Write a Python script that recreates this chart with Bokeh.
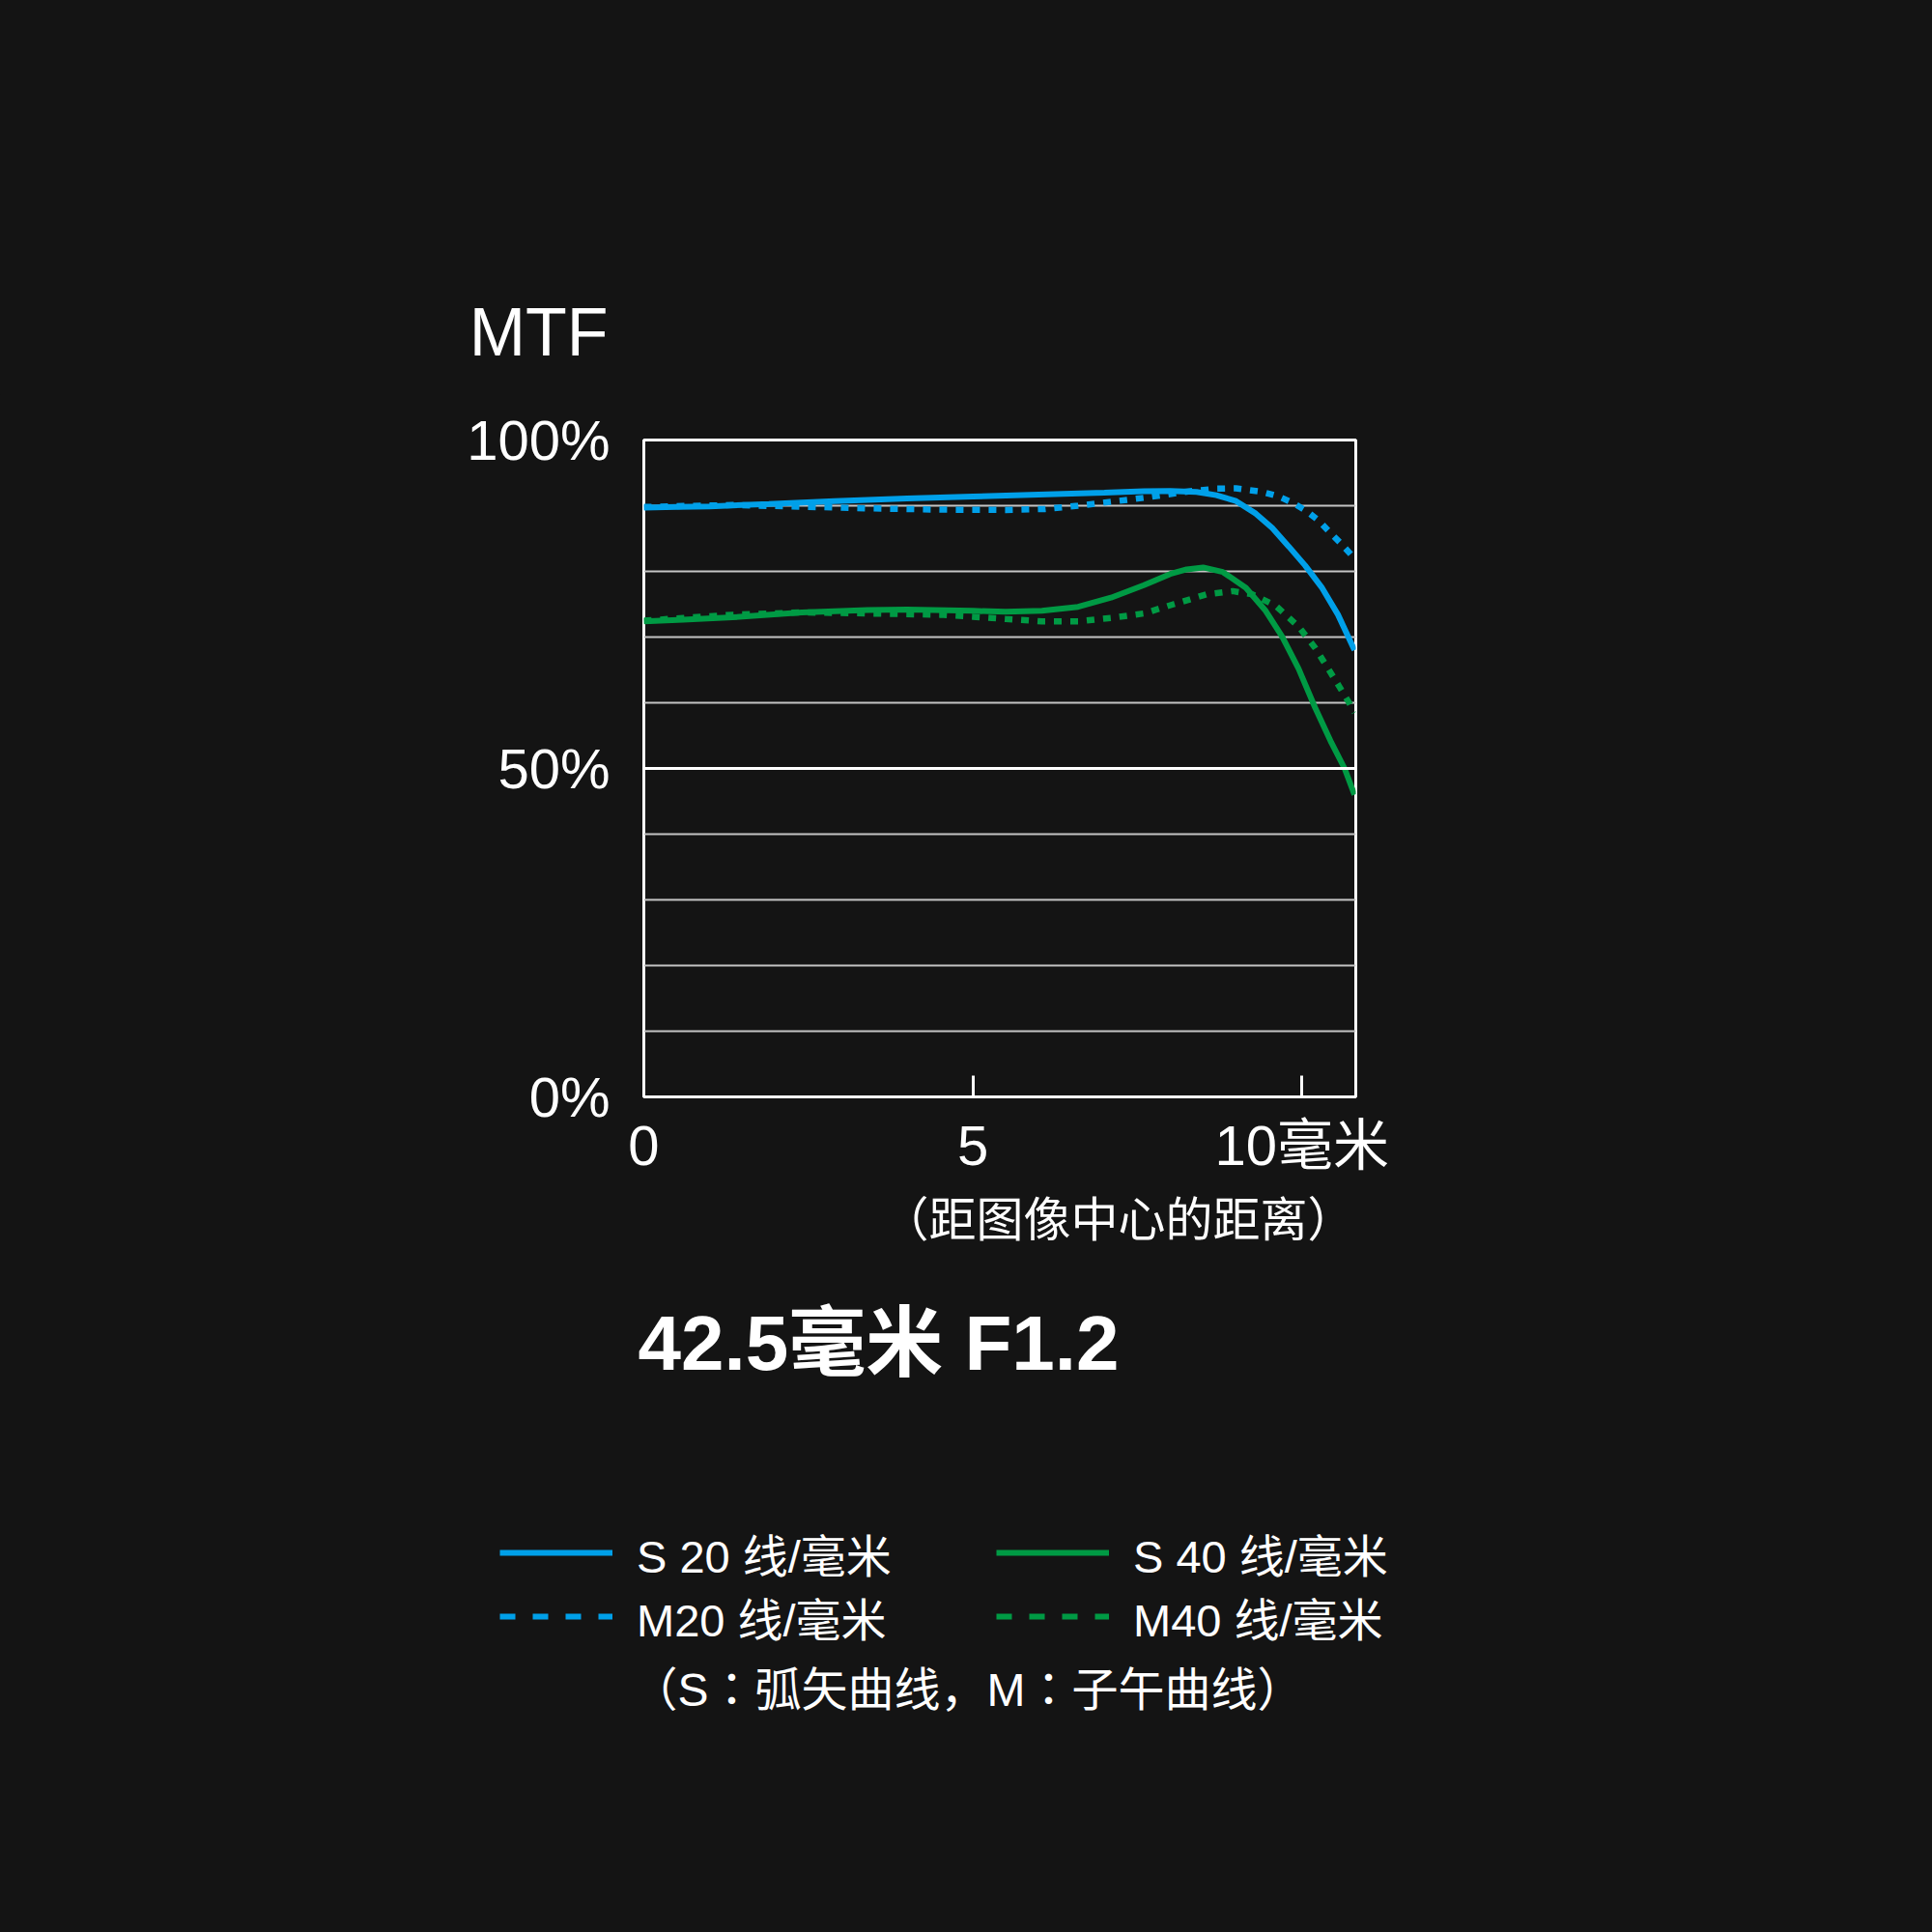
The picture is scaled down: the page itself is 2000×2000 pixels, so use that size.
from bokeh.plotting import figure
from bokeh.layouts import column
from bokeh.models import (Range1d, FixedTicker, Span, Label, Legend, LegendItem,
                          GlobalInlineStyleSheet)
from bokeh.embed import file_html
from bokeh.resources import INLINE

# ---------------- data ----------------
s20_x = [0, 0.5, 1.0, 1.9, 2.9, 4.0, 5.0, 6.0, 7.0, 7.6, 8.0, 8.4, 8.7, 9.0, 9.3, 9.55, 9.8, 10.05, 10.3, 10.55, 10.8]
s20_y = [89.7, 89.8, 89.9, 90.25, 90.7, 91.1, 91.4, 91.7, 92.0, 92.2, 92.25, 92.1, 91.6, 90.7, 88.8, 86.6, 83.8, 80.9, 77.6, 73.4, 68.0]

m20_x = [0, 0.6, 1.35, 2.4, 3.4, 4.5, 5.5, 6.1, 6.6, 7.1, 7.6, 7.95, 8.3, 8.7, 9.0, 9.4, 9.65, 9.87, 10.07, 10.26, 10.41, 10.59, 10.8]
m20_y = [89.8, 89.95, 90.1, 89.85, 89.6, 89.4, 89.35, 89.5, 90.0, 90.6, 91.2, 91.7, 92.2, 92.6, 92.65, 92.1, 91.4, 90.4, 89.2, 87.7, 86.1, 84.3, 82.0]

s40_x = [0, 0.6, 1.35, 2.4, 3.4, 4.0, 5.0, 5.5, 6.05, 6.6, 7.1, 7.6, 8.0, 8.25, 8.5, 8.8, 9.15, 9.45, 9.7, 9.95, 10.2, 10.45, 10.65, 10.8]
s40_y = [72.4, 72.65, 73.0, 73.75, 74.1, 74.2, 74.0, 73.85, 74.0, 74.6, 76.0, 77.9, 79.6, 80.3, 80.6, 79.9, 77.5, 74.0, 70.1, 65.2, 59.3, 53.9, 50.0, 46.0]

m40_x = [0, 0.6, 1.35, 2.4, 3.4, 4.5, 5.0, 5.5, 6.05, 6.6, 7.1, 7.6, 8.05, 8.55, 8.95, 9.25, 9.6, 9.95, 10.2, 10.4, 10.58, 10.73, 10.8]
m40_y = [72.5, 72.9, 73.4, 73.75, 73.6, 73.4, 73.1, 72.75, 72.4, 72.4, 72.9, 73.6, 75.0, 76.5, 77.0, 76.5, 74.8, 71.6, 68.4, 65.2, 62.3, 59.8, 58.5]

x_ticks = [0, 5, 10]
x_tick_labels = ["0", "5", "10毫米"]
y_ticks = [0, 50, 100]
y_tick_labels = ["0%", "50%", "100%"]
grid_ticks = [10, 20, 30, 40, 60, 70, 80, 90]

legend_labels = ["S 20 线/毫米", "M20 线/毫米", "S 40 线/毫米", "M40 线/毫米"]
y_label = "MTF"
x_label = "（距图像中心的距离）"
title_text = "42.5毫米 F1.2"
note_text = "（S：弧矢曲线，M：子午曲线）"

# ---------------- style ----------------
BG = "#141414"
BLUE = "#00a0e9"
GREEN = "#009a44"
FONT = "Liberation Sans, Noto Sans CJK SC"
FONT_CJK = "Noto Sans CJK SC"
FONT_NOTE = "Liberation Sans, Noto Sans CJK JP"
W = 1984
H_TOP, H_MAIN = 408, 812
H_BOT = W - H_TOP - H_MAIN


def blank_fig(h):
    f = figure(width=W, height=h, output_backend="svg", toolbar_location=None,
               x_range=Range1d(0, W), y_range=Range1d(0, h),
               x_axis_location=None, y_axis_location=None,
               min_border=0, background_fill_color=BG, border_fill_color=BG,
               frame_align=False)
    f.outline_line_color = None
    f.xgrid.visible = False
    f.ygrid.visible = False
    return f


# ---- top strip: "MTF" ----
pt = blank_fig(H_TOP)
pt.add_layout(Label(x=629, y=65, text=y_label, text_align="right",
                    text_baseline="alphabetic", text_color="white",
                    text_font=FONT, text_font_size="70px"))

# ---- main chart ----
p = figure(width=W, height=H_MAIN, output_backend="svg", toolbar_location=None,
           x_range=Range1d(0, 10.82), y_range=Range1d(0, 100),
           min_border_left=666, min_border_right=W - 1403,
           min_border_top=47, min_border_bottom=H_MAIN - 47 - 680,
           background_fill_color=BG, border_fill_color=BG, frame_align=False)
p.outline_line_color = "white"
p.outline_line_width = 3
p.outline_line_alpha = 1.0

xa = p.xaxis[0]
xa.ticker = FixedTicker(ticks=x_ticks)
xa.major_label_overrides = {t: l for t, l in zip(x_ticks, x_tick_labels)}
xa.axis_line_color = None
xa.major_tick_in = 22
xa.major_tick_out = 0
xa.major_tick_line_color = "white"
xa.major_tick_line_width = 3
xa.minor_tick_line_color = None
xa.major_label_text_color = "white"
xa.major_label_text_font = FONT
xa.major_label_text_font_size = "58px"
xa.major_label_standoff = 17

ya = p.yaxis[0]
ya.ticker = FixedTicker(ticks=y_ticks)
ya.major_label_overrides = {t: l for t, l in zip(y_ticks, y_tick_labels)}
ya.axis_line_color = None
ya.major_tick_line_color = None
ya.minor_tick_line_color = None
ya.major_label_text_color = "white"
ya.major_label_text_font = FONT
ya.major_label_text_font_size = "58px"
ya.major_label_standoff = 29

p.xgrid.visible = False
p.ygrid.ticker = FixedTicker(ticks=grid_ticks)
p.ygrid.grid_line_color = "#c4c4c4"
p.ygrid.grid_line_width = 1.8
p.add_layout(Span(location=50, dimension="width", line_color="white", line_width=3))

DOT = "8 9"
p.line(m20_x, m20_y, line_color=BLUE, line_width=6.5, line_dash=DOT)
p.line(m40_x, m40_y, line_color=GREEN, line_width=6.5, line_dash=DOT)
p.line(s20_x, s20_y, line_color=BLUE, line_width=6)
p.line(s40_x, s40_y, line_color=GREEN, line_width=6)

# ---- bottom strip: axis title, lens title, legend, note ----
pb = blank_fig(H_BOT)
pb.add_layout(Label(x=1157, y=726, text=x_label, text_align="center",
                    text_baseline="middle", text_color="white",
                    text_font=FONT_CJK, text_font_size="49px"))
pb.add_layout(Label(x=660, y=594, text=title_text, text_align="left",
                    text_baseline="alphabetic", text_color="white",
                    text_font=FONT, text_font_size="80px", text_font_style="bold"))
pb.add_layout(Label(x=1001, y=235, text=note_text, text_align="center",
                    text_baseline="middle", text_color="white",
                    text_font=FONT_NOTE, text_font_size="48px"))

# legend samples (hidden renderers, only their legend glyphs are shown)
l_s20 = pb.line(s20_x, s20_y, line_color=BLUE, line_width=6, visible=False)
l_m20 = pb.line(m20_x, m20_y, line_color=BLUE, line_width=6, line_dash="16 18", visible=False)
l_s40 = pb.line(s40_x, s40_y, line_color=GREEN, line_width=6, visible=False)
l_m40 = pb.line(m40_x, m40_y, line_color=GREEN, line_width=6, line_dash="16 18", visible=False)


def make_legend(label, rend, loc):
    return Legend(items=[LegendItem(label=label, renderers=[rend])],
                  location=loc, orientation="vertical",
                  glyph_width=117, glyph_height=80, label_height=80,
                  label_standoff=25, spacing=0, padding=0, margin=0,
                  border_line_color=None, background_fill_alpha=0,
                  inactive_fill_alpha=0,
                  label_text_color="white", label_text_font=FONT,
                  label_text_font_size="47px")


pb.add_layout(make_legend(legend_labels[0], l_s20, (517, 337)))
pb.add_layout(make_legend(legend_labels[1], l_m20, (517, 271)))
pb.add_layout(make_legend(legend_labels[2], l_s40, (1031, 337)))
pb.add_layout(make_legend(legend_labels[3], l_m40, (1031, 271)))

layout = column(pt, p, pb, spacing=0)
layout.stylesheets = [GlobalInlineStyleSheet(css=f"html, body {{ background: {BG}; }}")]

open("out.html", "w").write(file_html(layout, INLINE))
